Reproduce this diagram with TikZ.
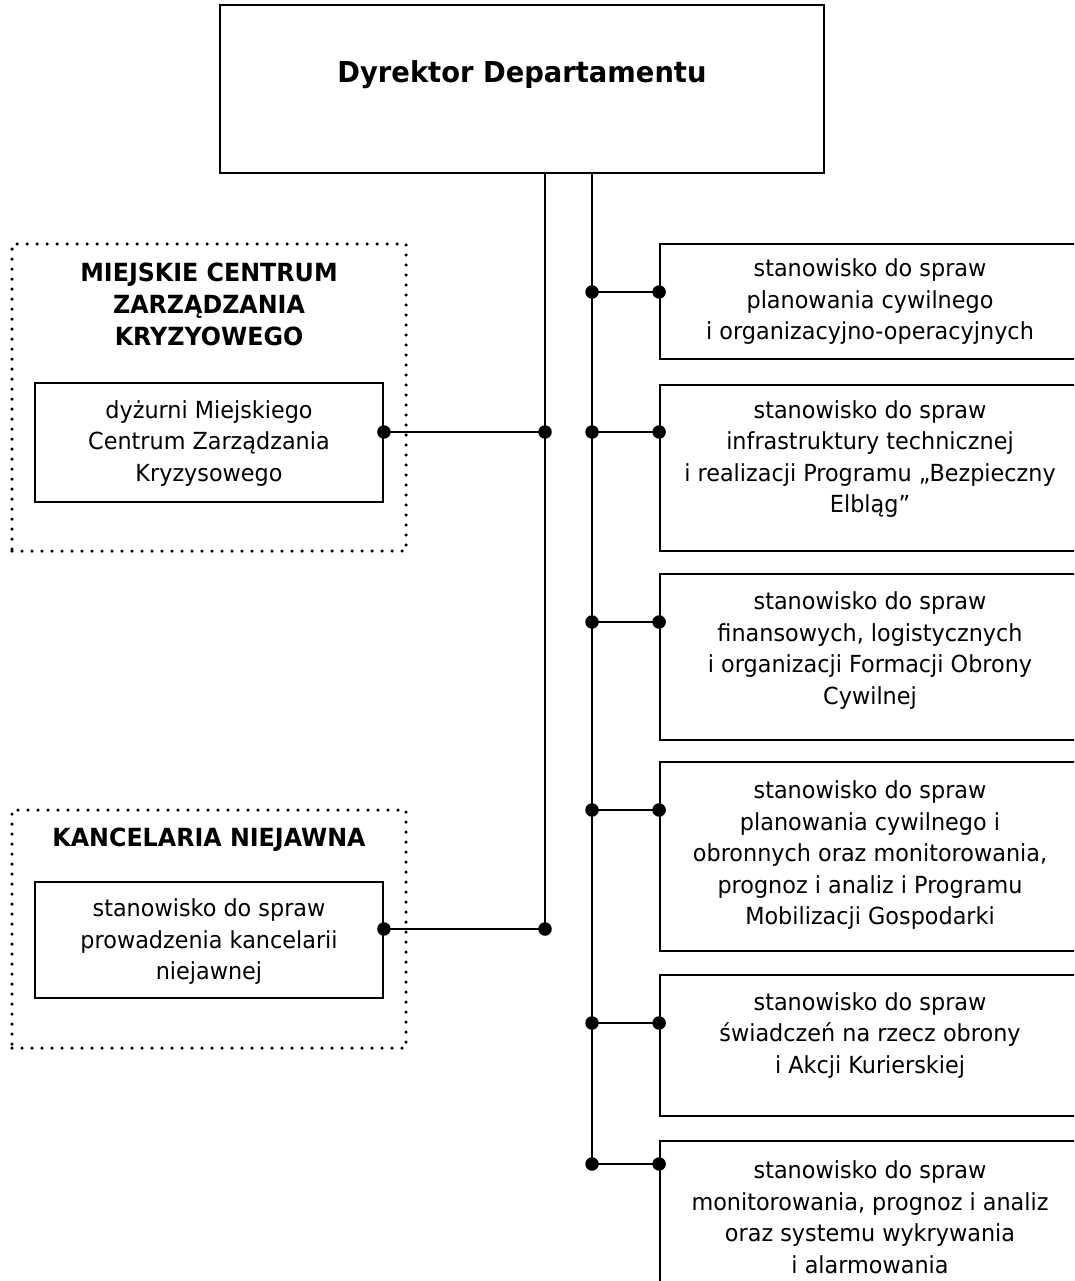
\documentclass[tikz,border=0pt]{standalone}
\usepackage{fontspec}
\setmainfont{DejaVu Sans}[FakeStretch=0.95]
\begin{document}
\begin{tikzpicture}[x=1pt,y=-1pt,
  box/.style={draw, line width=1.8pt, rectangle, inner sep=0pt},
  dotbox/.style={draw, line width=3.5pt, line cap=round, dash pattern=on 0pt off 10pt, rectangle, inner sep=0pt},
  txt/.style={align=center, inner sep=0pt, font=\fontsize{23.5}{31.5}\selectfont},
  ttl/.style={align=center, inner sep=0pt, font=\fontsize{25}{32}\selectfont\bfseries},
  conn/.style={line width=1.8pt},
  jdot/.style={circle, fill=black, inner sep=0pt, minimum size=13.5pt}]
\clip (0,0) rectangle (1074,1281);
\fill[white] (0,0) rectangle (1074,1281);

% top box
\node[box, minimum width=604pt, minimum height=168pt] (top) at (522,89) {};
\node[inner sep=0pt, font=\fontsize{28.8}{32}\selectfont\bfseries] (toptxt) at (522,75) {Dyrektor Departamentu};

% left dotted groups
\node[dotbox, minimum width=394pt, minimum height=307pt] (g1) at (209,397.5) {};
\node[ttl] (g1t) at (209,304) {MIEJSKIE CENTRUM\\ZARZĄDZANIA\\KRYZYOWEGO};
\node[box, minimum width=348pt, minimum height=119pt] (l1) at (209,442.5) {};
\node[txt] (l1t) at (209,443.5) {dyżurni Miejskiego\\Centrum Zarządzania\\Kryzysowego};

\node[dotbox, minimum width=394pt, minimum height=238pt] (g2) at (209,929) {};
\node[ttl] (g2t) at (209,840) {KANCELARIA NIEJAWNA};
\node[box, minimum width=348pt, minimum height=116pt] (l2) at (209,940) {};
\node[txt] (l2t) at (209,942) {stanowisko do spraw\\prowadzenia kancelarii\\niejawnej};

% right boxes
\node[box, minimum width=420pt, minimum height=115pt] (r1) at (870,301.5) {};
\node[txt] (r1t) at (870,302) {stanowisko do spraw\\planowania cywilnego\\i organizacyjno-operacyjnych};
\node[box, minimum width=420pt, minimum height=166pt] (r2) at (870,468) {};
\node[txt] (r2t) at (870,459) {stanowisko do spraw\\infrastruktury technicznej\\i realizacji Programu „Bezpieczny\\Elbląg”};
\node[box, minimum width=420pt, minimum height=166pt] (r3) at (870,657) {};
\node[txt] (r3t) at (870,650.5) {stanowisko do spraw\\finansowych, logistycznych\\i organizacji Formacji Obrony\\Cywilnej};
\node[box, minimum width=420pt, minimum height=189pt] (r4) at (870,856.5) {};
\node[txt] (r4t) at (870,855.5) {stanowisko do spraw\\planowania cywilnego i\\obronnych oraz monitorowania,\\prognoz i analiz i Programu\\Mobilizacji Gospodarki};
\node[box, minimum width=420pt, minimum height=141pt] (r5) at (870,1045.5) {};
\node[txt] (r5t) at (870,1035.5) {stanowisko do spraw\\świadczeń na rzecz obrony\\i Akcji Kurierskiej};
\node[box, minimum width=420pt, minimum height=180pt] (r6) at (870,1231) {};
\node[txt] (r6t) at (870,1217) {stanowisko do spraw\\monitorowania, prognoz i analiz\\oraz systemu wykrywania\\i alarmowania};

% trunk junctions
\coordinate (a1) at (545,432);
\coordinate (a2) at (545,929);
\coordinate (b1) at (592,292);
\coordinate (b2) at (592,432);
\coordinate (b3) at (592,622);
\coordinate (b4) at (592,810);
\coordinate (b5) at (592,1023);
\coordinate (b6) at (592,1164);

% trunks
\draw[conn] (top.south -| a2) -- (a2);
\draw[conn] (top.south -| b6) -- (b6);

% left branches
\draw[conn] (l1.east |- a1) -- (a1);
\draw[conn] (l2.east |- a2) -- (a2);
% right branches
\foreach \b/\r in {b1/r1,b2/r2,b3/r3,b4/r4,b5/r5,b6/r6}{
  \draw[conn] (\b) -- (\r.west |- \b);
  \node[jdot] at (\b) {};
  \node[jdot] at (\r.west |- \b) {};
}
\node[jdot] (da1) at (a1) {};
\node[jdot] (da2) at (a2) {};
\node[jdot] (dl1) at (l1.east |- a1) {};
\node[jdot] (dl2) at (l2.east |- a2) {};
\end{tikzpicture}
\end{document}
